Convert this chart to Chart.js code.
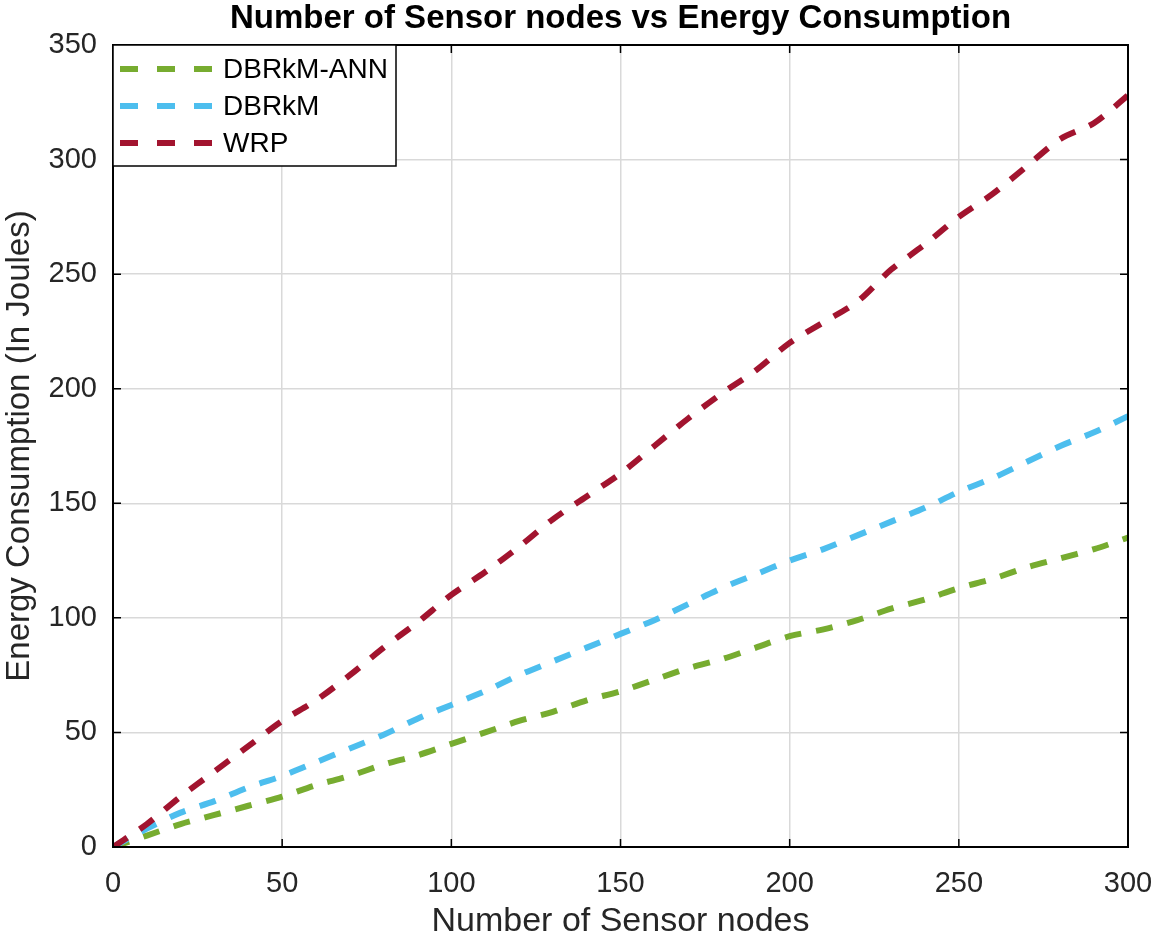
<!DOCTYPE html>
<html lang="en">
<head>
  <meta charset="UTF-8" />
  <title>Number of Sensor nodes vs Energy Consumption</title>
  <script src="https://cdn.jsdelivr.net/npm/chart.js"></script>
  <style>
    body { margin: 0; background: #fff; }
    #wrap { width: 1155px; height: 944px; }
  </style>
</head>
<body>
  <div id="wrap"><canvas id="chart"></canvas></div>
  <script>
    // values
    const nodes = [0, 10, 20, 30, 40, 50, 60, 70, 80, 90, 100, 110, 120, 130, 140, 150,
                   160, 170, 180, 190, 200, 210, 220, 230, 240, 250, 260, 270, 280, 290, 300];
    const annEnergy = [0, 5, 10, 14, 18, 22, 27, 31, 36, 40, 45, 50, 55, 59, 64, 68,
                       73, 78, 82, 87, 92, 95, 99, 104, 108, 113, 117, 122, 126, 130, 135];
    const dbrkmEnergy = [0, 8, 15, 20, 26, 31, 37, 43, 49, 56, 62, 68, 75, 81, 87, 93,
                         99, 106, 113, 119, 125, 130, 136, 142, 148, 155, 161, 168, 175, 181, 188];
    const wrpEnergy = [0, 10, 22, 33, 44, 55, 64, 75, 87, 98, 110, 120, 131, 143, 153, 163,
                       175, 187, 198, 208, 220, 229, 238, 252, 263, 275, 285, 297, 309, 316, 328];
    const seriesNames = ["DBRkM-ANN", "DBRkM", "WRP"];
    const seriesColors = ["#77AC30", "#4DBEEE", "#A2142F"];
    const yTicks = [0, 50, 100, 150, 200, 250, 300, 350];
    const chartTitle = "Number of Sensor nodes vs Energy Consumption";

    const toPoints = vals => vals.map((v, i) => ({ x: nodes[i], y: v }));
    const FONT = "'Liberation Sans', Arial, sans-serif";

    // title over the axes, box around the axes, inward ticks and a MATLAB style legend
    const matlabBox = {
      id: "matlabBox",
      afterDraw(chart) {
        const { ctx, chartArea: a, scales } = chart;
        ctx.save();
        ctx.fillStyle = "#000";
        ctx.font = "bold 33px " + FONT;
        ctx.textAlign = "center";
        ctx.textBaseline = "middle";
        ctx.fillText(chartTitle, (a.left + a.right) / 2, 19);
        ctx.textAlign = "left";

        ctx.strokeStyle = "#000";
        ctx.lineWidth = 2;
        ctx.strokeRect(a.left, a.top, a.right - a.left, a.bottom - a.top);
        ctx.lineWidth = 1.5;
        ctx.beginPath();
        scales.x.ticks.forEach(t => {
          const px = scales.x.getPixelForValue(t.value);
          ctx.moveTo(px, a.bottom); ctx.lineTo(px, a.bottom - 8);
          ctx.moveTo(px, a.top); ctx.lineTo(px, a.top + 8);
        });
        scales.y.ticks.forEach(t => {
          const py = scales.y.getPixelForValue(t.value);
          ctx.moveTo(a.left, py); ctx.lineTo(a.left + 8, py);
          ctx.moveTo(a.right, py); ctx.lineTo(a.right - 8, py);
        });
        ctx.stroke();

        // legend
        const lx = a.left, ly = a.top, lw = 283, lh = 121;
        ctx.fillStyle = "#fff";
        ctx.fillRect(lx, ly, lw, lh);
        ctx.strokeStyle = "#000";
        ctx.lineWidth = 1.5;
        ctx.strokeRect(lx, ly, lw, lh);
        ctx.font = "28px " + FONT;
        seriesNames.forEach((name, i) => {
          const y = ly + 24 + i * 37;
          ctx.strokeStyle = seriesColors[i];
          ctx.lineWidth = 6;
          ctx.setLineDash([18, 19]);
          ctx.beginPath();
          ctx.moveTo(lx + 7, y); ctx.lineTo(lx + 100, y);
          ctx.stroke();
          ctx.setLineDash([]);
          ctx.fillStyle = "#000";
          ctx.fillText(name, lx + 110, y + 1);
        });
        ctx.restore();
      }
    };

    new Chart(document.getElementById("chart"), {
      type: "line",
      data: {
        datasets: [annEnergy, dbrkmEnergy, wrpEnergy].map((vals, i) => ({
          label: seriesNames[i],
          data: toPoints(vals),
          borderColor: seriesColors[i],
          backgroundColor: seriesColors[i],
          borderWidth: 6,
          borderDash: [17, 15],
          pointRadius: 0,
          tension: 0.3,
          fill: false
        })).reverse()
      },
      options: {
        responsive: true,
        maintainAspectRatio: false,
        animation: false,
        layout: { padding: { top: 45, right: 27, bottom: 0, left: 0 } },
        plugins: {
          legend: { display: false },
          tooltip: { enabled: false },
          title: { display: false }
        },
        scales: {
          x: {
            type: "linear",
            min: 0, max: 300,
            ticks: {
              stepSize: 50,
              color: "#262626",
              padding: 20,
              font: { family: FONT, size: 29 }
            },
            grid: { color: "#d9d9d9", lineWidth: 1.5, drawTicks: false },
            border: { display: false },
            title: {
              display: true,
              text: "Number of Sensor nodes",
              color: "#262626",
              font: { family: FONT, size: 34 },
              padding: { top: 4, bottom: 2 }
            },
            afterFit(scale) {
              scale.height = 97;
              scale.paddingLeft = 0;
              scale.paddingRight = 0;
            }
          },
          y: {
            min: 0, max: 350,
            afterBuildTicks(scale) { scale.ticks = yTicks.map(v => ({ value: v })); },
            ticks: {
              color: "#262626",
              padding: 16,
              font: { family: FONT, size: 29 }
            },
            grid: { color: "#d9d9d9", lineWidth: 1.5, drawTicks: false },
            border: { display: false },
            title: {
              display: true,
              text: "Energy Consumption (In Joules)",
              color: "#262626",
              font: { family: FONT, size: 33 },
              padding: { top: 0, bottom: 4 }
            },
            afterFit(scale) {
              scale.width = 113;
              scale.paddingTop = 0;
              scale.paddingBottom = 0;
            }
          }
        }
      },
      plugins: [matlabBox]
    });
  </script>
</body>
</html>
